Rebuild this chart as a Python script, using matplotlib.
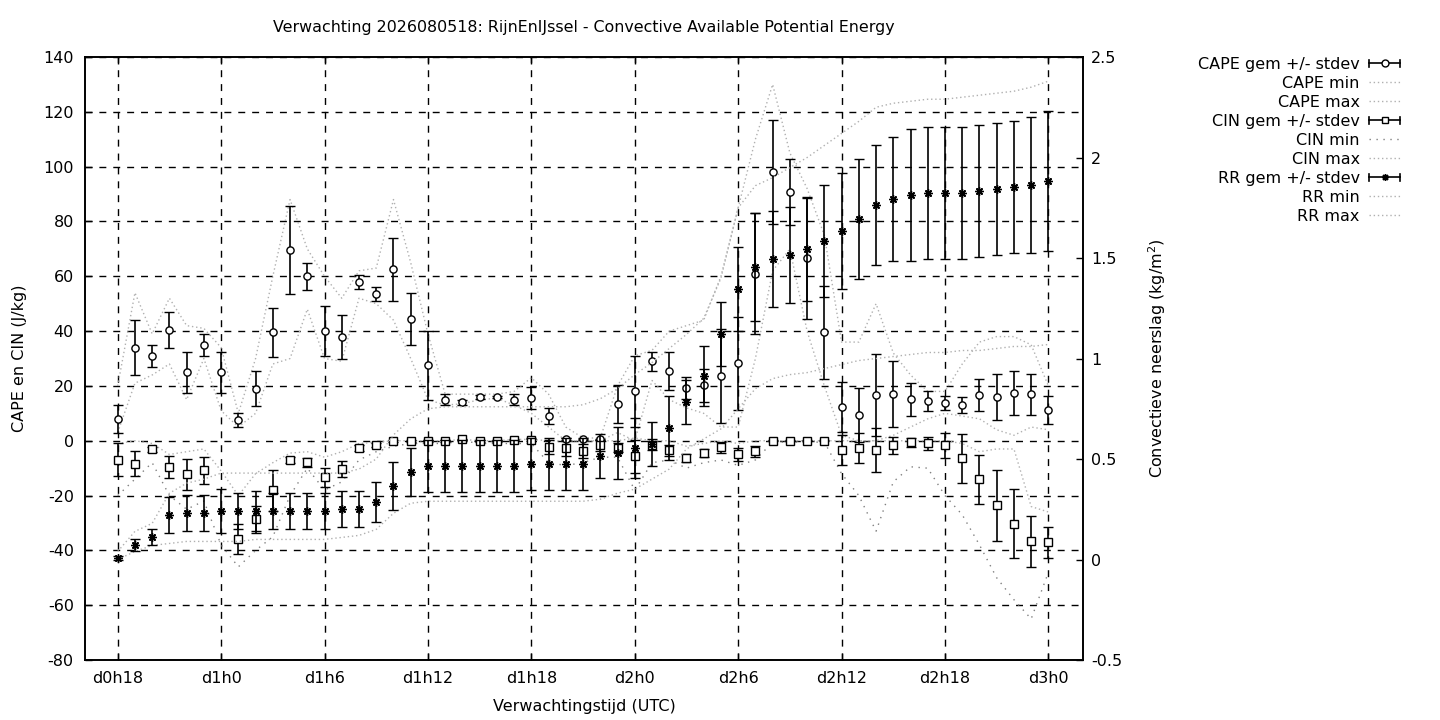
import numpy as np
import matplotlib
matplotlib.use("Agg")
import matplotlib.pyplot as plt
from matplotlib.legend_handler import HandlerBase
from matplotlib.lines import Line2D

plt.rcParams['font.family'] = ['DejaVu Sans']
plt.rcParams['axes.unicode_minus'] = False

# ------------------------------- DATA -------------------------------------- #
hours = list(range(18, 73))
tick_hours = [18, 24, 30, 36, 42, 48, 54, 60, 66, 72]
tick_labels = ["d0h18", "d1h0", "d1h6", "d1h12", "d1h18",
               "d2h0", "d2h6", "d2h12", "d2h18", "d3h0"]

cape_mean = [8, 34, 31, 40.5, 25, 35, 25, 7.5, 19, 39.5, 69.5, 60,
             40, 38, 58, 53.5, 62.5, 44.5, 27.5, 15, 14, 16, 16, 15,
             15.5, 9, 0.5, 0.5, 0.5, 13.4, 18, 29, 25.4, 19.3, 20.3, 23.6,
             28.3, 61, 98, 90.7, 66.6, 39.6, 12.3, 9.4, 16.7, 17, 15.2, 14.5,
             13.8, 13, 16.7, 15.9, 17.3, 17, 11.2]
cape_std = [5, 10, 4, 6.5, 7.5, 4, 7.5, 2.5, 6.5, 9, 16, 5,
            9, 8, 2.5, 2.5, 11.5, 9.5, 12.5, 2, 0.8, 0.8, 0.5, 2,
            4, 3, 0.5, 0.3, 0.3, 7, 13, 3.5, 7, 4, 6, 17,
            17, 22, 19, 12, 22, 17, 9, 10, 15, 12, 6, 3.5,
            2.5, 3, 6, 8.5, 8, 7.5, 5]
cape_min = [3, 21, 24, 28, 15, 30, 11, 5, 10, 28, 30, 48,
            30, 29, 52, 50, 44, 30, 15, 13, 13.5, 15, 15.5, 13,
            10, 5, 0, 0, 0, 3, 0, 22, 15, 12, 10, 5,
            5, 30, 62, 70, 40, 20, 2, 0, 0, 2, 5, 8,
            10, 9, 8, 4, 2, 5, 4]
cape_max = [20, 54, 39, 52, 42, 41, 34, 10, 30, 60, 88, 70,
            60, 52, 62, 63, 88, 65, 39, 17, 17, 17, 17, 18,
            23, 17, 5, 1, 1, 20, 31, 33, 40, 42, 44, 60,
            85, 110, 130, 105, 92, 75, 36, 36, 50, 32, 24, 18,
            18, 28, 36, 38, 38, 35, 20]

cin_mean = [-7, -8.3, -3.1, -9.7, -12.3, -10.8, np.nan, -36, -28.7, -18, -7, -7.9,
            -13.4, -10.4, -2.7, -1.6, -0.1, 0, 0, 0, 0.5, 0, 0, 0.3,
            0.3, -2.4, -2.7, -3.7, -1.6, -2.5, -5.6, -1.5, -3.4, -6.4, -4.6, -2.4,
            -5, -3.8, 0, 0, 0, 0, -3.5, -2.7, -3.5, -1.7, -0.6, -1.0,
            -1.7, -6.4, -14.1, -23.6, -30.2, -36.7, -37.1]
cin_std = [6, 4.5, 1, 4, 5.7, 4.8, 0, 5.5, 5, 7.5, 1, 1.5,
           3.5, 3, 1, 0.8, 0.3, 0.3, 0.3, 0.3, 0.3, 0.3, 0.3, 0.3,
           0.3, 2.5, 3, 2.5, 2, 1.5, 6, 2, 2, 1.5, 1.5, 2,
           2.5, 2, 0.2, 0.2, 0.2, 0.2, 5.5, 5.5, 8, 3, 1.5, 2.5,
           4.5, 9, 8.8, 13, 12.5, 9.3, 5.5]
cin_min = [-20, -14, -8, -20, -25, -22, -38, -46, -40, -35, -20, -10,
           -18, -15, -7, -4, -2, -1, -1, -1, 0, -1, -1, -1,
           -1, -8, -9, -8, -6, -6, -18, -8, -7, -10, -8, -7,
           -9, -7, -0.5, -0.5, -0.5, -0.5, -12, -20, -33, -15, -9.5, -10,
           -20, -27, -38, -50, -58, -65, -48]
cin_max = [-1, 0, -1, -5, -4, -3, -11, -20, -12, -8, -4.5, -4,
           -6, -4, -1, -0.5, 0, 0, 0, 0, 0.5, 0, 0, 0.5,
           0.5, 0, 0, 0, 0, 0, 1, 0, 0, -2, -1, 0,
           -1, 0, 0, 0, 0, 0, 0, 0, 0, 0, 0, 0,
           0, -1, -4, -3, -3, -24, -26]

rr_mean = [0.01, 0.07, 0.11, 0.22, 0.23, 0.23, 0.24, 0.24, 0.24, 0.24, 0.24, 0.24,
           0.24, 0.25, 0.25, 0.285, 0.366, 0.435, 0.465, 0.465, 0.465, 0.465, 0.465, 0.465,
           0.475, 0.475, 0.475, 0.475, 0.515, 0.53, 0.555, 0.575, 0.654, 0.784, 0.913, 1.122,
           1.346, 1.455, 1.495, 1.515, 1.545, 1.585, 1.634, 1.694, 1.764, 1.794, 1.813, 1.823,
           1.823, 1.823, 1.833, 1.843, 1.853, 1.863, 1.883]
rr_std = [0.01, 0.03, 0.04, 0.09, 0.09, 0.09, 0.11, 0.09, 0.1, 0.09, 0.09, 0.09,
          0.09, 0.09, 0.09, 0.1, 0.12, 0.12, 0.13, 0.13, 0.13, 0.13, 0.13, 0.13,
          0.13, 0.13, 0.13, 0.13, 0.11, 0.13, 0.15, 0.11, 0.16, 0.11, 0.15, 0.16,
          0.21, 0.27, 0.24, 0.24, 0.26, 0.28, 0.29, 0.3, 0.3, 0.31, 0.33, 0.33,
          0.33, 0.33, 0.33, 0.33, 0.33, 0.34, 0.35]
rr_min = [0, 0.04, 0.07, 0.08, 0.09, 0.09, 0.09, 0.09, 0.1, 0.1, 0.1, 0.1,
          0.1, 0.11, 0.12, 0.15, 0.23, 0.28, 0.29, 0.29, 0.29, 0.29, 0.29, 0.29,
          0.29, 0.29, 0.29, 0.29, 0.3, 0.33, 0.35, 0.4, 0.45, 0.55, 0.6, 0.65,
          0.75, 0.85, 0.9, 0.92, 0.93, 0.95, 0.97, 0.99, 1.0, 1.01, 1.02, 1.03,
          1.03, 1.04, 1.04, 1.05, 1.06, 1.06, 1.07]
rr_max = [0.04, 0.14, 0.18, 0.33, 0.38, 0.4, 0.43, 0.43, 0.43, 0.43, 0.43, 0.43,
          0.43, 0.43, 0.45, 0.5, 0.62, 0.7, 0.75, 0.76, 0.76, 0.76, 0.76, 0.76,
          0.76, 0.76, 0.76, 0.77, 0.8, 0.85, 0.92, 0.98, 1.05, 1.12, 1.2, 1.4,
          1.75, 1.86, 1.9, 1.95, 2.0, 2.06, 2.12, 2.18, 2.25, 2.27, 2.28, 2.29,
          2.29, 2.3, 2.31, 2.32, 2.33, 2.35, 2.38]


# gnuplot-like legend sample for errorbars:  |--o--|
class ErrHandler(HandlerBase):
    def __init__(self, marker, face):
        super().__init__()
        self.marker = marker
        self.face = face

    def create_artists(self, legend, orig_handle, xdescent, ydescent,
                       width, height, fontsize, trans):
        y = height / 2 - ydescent
        x0, x1 = -xdescent, width - xdescent
        c = 0.3 * height
        arts = [Line2D([x0, x1], [y, y], color="black", lw=1.2),
                Line2D([x0, x0], [y - c, y + c], color="black", lw=1.2),
                Line2D([x1, x1], [y - c, y + c], color="black", lw=1.2),
                Line2D([(x0 + x1) / 2], [y], marker=self.marker, markersize=5,
                       markerfacecolor=self.face, markeredgecolor="black",
                       markeredgewidth=1.0, linestyle="none")]
        for a in arts:
            a.set_transform(trans)
        return arts


# ------------------------------ PLOTTING ----------------------------------- #
fig = plt.figure(figsize=(14.4, 7.2), dpi=100)
ax = fig.add_axes([0.059, 0.0833, 0.693, 0.8375])
ax2 = ax.twinx()

dot = (0, (1, 2))
dot_sparse = (0, (1, 4))
light = "#b0b0b0"

ebkw = dict(color="black", lw=1.2, capsize=3.8, capthick=1.2,
            markersize=5.2, markerfacecolor="white", markeredgecolor="black",
            markeredgewidth=1.0, linestyle="none")

h_cape = ax.errorbar(hours, cape_mean, yerr=cape_std, marker="o", zorder=3, **ebkw)
l_cape_min, = ax.plot(hours, cape_min, color=light, lw=1, linestyle=dot)
l_cape_max, = ax.plot(hours, cape_max, color=light, lw=1, linestyle=dot)

h_cin = ax.errorbar(hours, cin_mean, yerr=cin_std, marker="s", zorder=3, **ebkw)
l_cin_min, = ax.plot(hours, cin_min, color="#808080", lw=1, linestyle=dot_sparse)
l_cin_max, = ax.plot(hours, cin_max, color=light, lw=1, linestyle=dot)

rrkw = dict(ebkw)
rrkw["markerfacecolor"] = "black"
rrkw["markersize"] = 6
h_rr = ax2.errorbar(hours, rr_mean, yerr=rr_std, marker=(8, 2, 0), zorder=3, **rrkw)
l_rr_min, = ax2.plot(hours, rr_min, color=light, lw=1, linestyle=dot)
l_rr_max, = ax2.plot(hours, rr_max, color=light, lw=1, linestyle=dot)

# axes
ax.set_xlim(16.1, 74.0)
ax.set_ylim(-80, 140)
ax.set_yticks(range(-80, 141, 20))
ax.set_xticks(tick_hours)
ax.set_xticklabels(tick_labels)
ax2.set_ylim(-0.5, 2.5)
rr_ticks = [-0.5, 0, 0.5, 1, 1.5, 2, 2.5]
ax2.set_yticks(rr_ticks)
ax2.set_yticklabels(["-0.5", "0", "0.5", "1", "1.5", "2", "2.5"])

ax.grid(True, color="black", linestyle=(0, (5, 5)), lw=1.0)
for a in (ax, ax2):
    a.tick_params(direction="in", labelsize=11.5, length=5, width=1)
    for s in a.spines.values():
        s.set_linewidth(1.2)
ax.tick_params(top=True, pad=8)
ax2.tick_params(pad=6)

ax.set_title("Verwachting 2026080518: RijnEnIJssel - Convective Available Potential Energy",
             fontsize=11.4, pad=18)
ax.set_xlabel("Verwachtingstijd (UTC)", fontsize=11.5, labelpad=9)
ax.set_ylabel("CAPE en CIN (J/kg)", fontsize=11.5, labelpad=12)
ax2.set_ylabel("Convectieve neerslag (kg/m$^2$)", fontsize=11.5, labelpad=17)

handles = [h_cape, l_cape_min, l_cape_max, h_cin, l_cin_min, l_cin_max,
           h_rr, l_rr_min, l_rr_max]
labels = ["CAPE gem +/- stdev", "CAPE min", "CAPE max",
          "CIN gem +/- stdev", "CIN min", "CIN max",
          "RR gem +/- stdev", "RR min", "RR max"]
fig.legend(handles, labels, loc="upper right", bbox_to_anchor=(0.982, 0.941),
           frameon=False, markerfirst=False, fontsize=11.5, labelspacing=0.25,
           handlelength=1.9, handletextpad=0.6,
           handler_map={h_cape: ErrHandler("o", "white"),
                        h_cin: ErrHandler("s", "white"),
                        h_rr: ErrHandler((8, 2, 0), "black")})

plt.savefig("out.png", dpi=100)
